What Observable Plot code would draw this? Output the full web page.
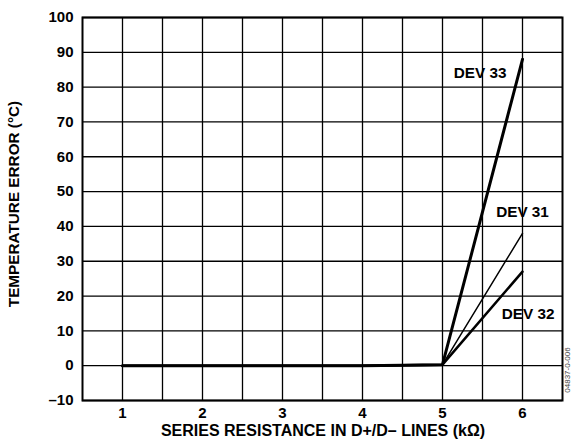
<!DOCTYPE html>
<html>
<head>
<meta charset="utf-8">
<script src="https://cdn.jsdelivr.net/npm/d3@7"></script>
<script src="https://cdn.jsdelivr.net/npm/@observablehq/plot@0.6"></script>
<style>
  html, body { margin: 0; padding: 0; background: #fff; }
  svg { font-family: "Liberation Sans", Arial, sans-serif; }
</style>
</head>
<body>
<div id="chart"></div>
<script>
const resistance = [1, 2, 3, 4, 5, 6];
const dev31 = [0, 0, 0, 0, 0.3, 38];
const dev32 = [0, 0, 0, 0, 0.3, 27];
const dev33 = [0, 0, 0, 0, 0.3, 88];

const xTicks = [1, 2, 3, 4, 5, 6];
const xGrid = [1, 1.5, 2, 2.5, 3, 3.5, 4, 4.5, 5, 5.5, 6];
const yTicks = [-10, 0, 10, 20, 30, 40, 50, 60, 70, 80, 90, 100];

const seriesNames = ["DEV 31", "DEV 32", "DEV 33"];
const seriesValues = [dev31, dev32, dev33];
const seriesWidths = { "DEV 31": 1.5, "DEV 32": 2.5, "DEV 33": 3 };

const rows = [];
seriesNames.forEach((name, i) => {
  resistance.forEach((r, j) => rows.push({ series: name, x: r, y: seriesValues[i][j] }));
});

const labelRows = [
  { text: "DEV 33", x: 5.47, y: 84 },
  { text: "DEV 31", x: 6.0, y: 44 },
  { text: "DEV 32", x: 6.07, y: 14.7 }
];

const fmt = d => d < 0 ? "\u2013" + (-d) : String(d);

const plot = Plot.plot({
  width: 574,
  height: 445,
  marginTop: 17,
  marginRight: 12,
  marginBottom: 45,
  marginLeft: 82,
  style: { fontFamily: '"Liberation Sans", Arial, sans-serif', background: "#fff" },
  x: { domain: [0.5, 6.5] },
  y: { domain: [-10, 100] },
  marks: [
    Plot.ruleX(xGrid, { stroke: "#000", strokeWidth: 1.3 }),
    Plot.ruleY(yTicks, { stroke: "#000", strokeWidth: 1.3 }),
    Plot.frame({ stroke: "#000", strokeWidth: 2 }),
    ...seriesNames.map(name =>
      Plot.line(rows.filter(d => d.series === name), {
        x: "x", y: "y", stroke: "#000", strokeWidth: seriesWidths[name]
      })
    ),
    Plot.text(labelRows, {
      x: "x", y: "y", text: "text", fontSize: 15.3, fontWeight: "bold", fill: "#000"
    }),
    Plot.axisX(xTicks, { tickSize: 0, tickPadding: 7, fontSize: 15, fontWeight: "bold", label: null, tickFormat: d => String(d) }),
    Plot.axisY(yTicks, { tickSize: 0, tickPadding: 9, fontSize: 15, fontWeight: "bold", label: null, tickFormat: fmt })
  ]
});

const svg = d3.select(plot);
svg.append("text")
  .attr("transform", "translate(15,204) rotate(-90)")
  .attr("text-anchor", "middle")
  .attr("dominant-baseline", "middle")
  .attr("font-size", 15.3)
  .attr("font-weight", "bold")
  .attr("fill", "#000")
  .text("TEMPERATURE ERROR (\u00B0C)");
svg.append("text")
  .attr("x", 323)
  .attr("y", 432)
  .attr("text-anchor", "middle")
  .attr("dominant-baseline", "middle")
  .attr("font-size", 16)
  .attr("font-weight", "bold")
  .attr("fill", "#000")
  .text("SERIES RESISTANCE IN D+/D\u2013 LINES (k\u03A9)");
svg.append("text")
  .attr("transform", "translate(568,370) rotate(-90)")
  .attr("text-anchor", "middle")
  .attr("dominant-baseline", "middle")
  .attr("font-size", 8)
  .attr("fill", "#444")
  .text("04837-0-006");

document.getElementById("chart").appendChild(plot);
</script>
</body>
</html>
